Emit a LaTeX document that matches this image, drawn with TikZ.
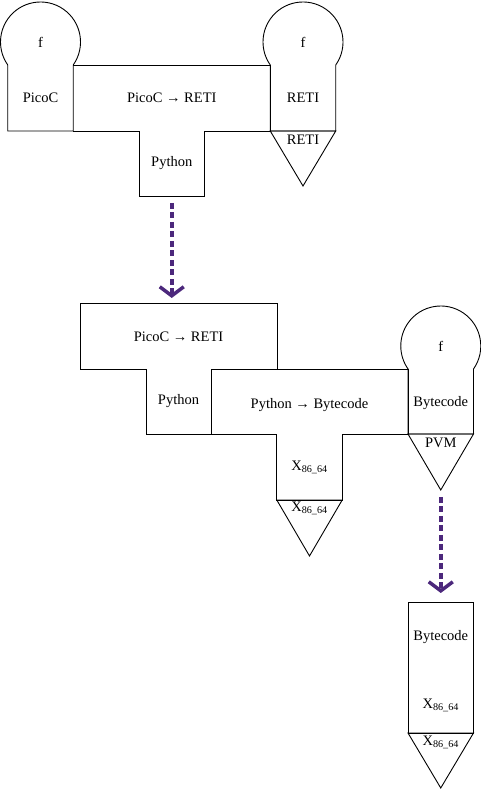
\documentclass[tikz,border=0pt]{standalone}
\usepackage{fontspec}
\setmainfont{Liberation Serif}
\usetikzlibrary{arrows.meta}
\definecolor{arrowpurple}{RGB}{76,40,124}
\begin{document}
\begin{tikzpicture}[x=1pt,y=1pt,
  outline/.style={draw=black,line width=0.9pt,line join=miter},
  lbl/.style={inner sep=0pt,font=\fontsize{14.5}{17}\selectfont},
  flow/.style={draw=arrowpurple,line width=3.5pt,dash pattern=on 6pt off 3.5pt,
    -{Straight Barb[length=9pt,width=24pt,line width=3.5pt]}}]
\useasboundingbox (0,0) rectangle (481,790);

% ---------- top group ----------
% left tombstone (program f in PicoC)
\draw[outline] (73.23,659) -- (73.23,725) arc[start angle=-35.1,end angle=215.1,radius=40] -- (7.77,659) -- cycle;
% T compiler PicoC -> RETI in Python
\draw[outline] (73.23,725) -- (270.27,725) -- (270.27,659) -- (204.5,659) -- (204.5,594) -- (139,594) -- (139,659) -- (73.23,659);
% right tombstone (program f in RETI)
\draw[outline] (335.73,659) -- (335.73,725) arc[start angle=-35.1,end angle=215.1,radius=40] -- (270.27,659) -- cycle;
% machine RETI
\draw[outline] (270.27,659) -- (335.73,659) -- (303,604) -- cycle;

\node[lbl] (f1) at (40.5,748) {f};
\node[lbl] (picoc1) at (40.5,692) {PicoC};
\node[lbl] (comp1) at (171.75,692) {PicoC → RETI};
\node[lbl] (py1) at (171.75,627) {Python};
\node[lbl] (f2) at (303,748) {f};
\node[lbl] (reti1) at (303,692) {RETI};
\node[lbl] (reti2) at (303,650) {RETI};

% arrow 1
\coordinate (a1s) at (171.75,587);
\coordinate (a1e) at (171.75,492);
\draw[flow] (a1s) -- (a1e);

% ---------- middle group ----------
% T compiler PicoC -> RETI in Python
\draw[outline] (80,487) -- (277,487) -- (277,421) -- (211,421) -- (211,356) -- (146,356) -- (146,421) -- (80,421) -- cycle;
% T compiler Python -> Bytecode in X86_64
\draw[outline] (211,421) -- (408,421) -- (408,356) -- (342.2,356) -- (342.2,290) -- (276.8,290) -- (276.8,356) -- (211,356) -- cycle;
% machine X86_64
\draw[outline] (276.8,290) -- (342.2,290) -- (309.5,234) -- cycle;
% tombstone f in Bytecode
\draw[outline] (473.5,356) -- (473.5,421) arc[start angle=-35.1,end angle=215.1,radius=40] -- (408,356) -- cycle;
% machine PVM
\draw[outline] (408,356) -- (473.5,356) -- (440.75,300) -- cycle;

\node[lbl] (comp2) at (178.5,453) {PicoC → RETI};
\node[lbl] (py2) at (178.5,389) {Python};
\node[lbl] (comp3) at (309.5,385) {Python → Bytecode};
\node[lbl] (x1) at (309.5,323) {X\textsubscript{86\_64}};
\node[lbl] (x2) at (309.5,282) {X\textsubscript{86\_64}};
\node[lbl] (f3) at (440.75,444) {f};
\node[lbl] (bc1) at (440.75,387) {Bytecode};
\node[lbl] (pvm) at (440.75,347) {PVM};

% arrow 2
\coordinate (a2s) at (440.75,293);
\coordinate (a2e) at (440.75,197);
\draw[flow] (a2s) -- (a2e);

% ---------- bottom group ----------
\draw[outline] (408,188) rectangle (473.5,57);
\draw[outline] (408,57) -- (473.5,57) -- (440.75,2) -- cycle;
\node[lbl] (bc2) at (440.75,153) {Bytecode};
\node[lbl] (x3) at (440.75,85) {X\textsubscript{86\_64}};
\node[lbl] (x4) at (440.75,48) {X\textsubscript{86\_64}};
\end{tikzpicture}
\end{document}
